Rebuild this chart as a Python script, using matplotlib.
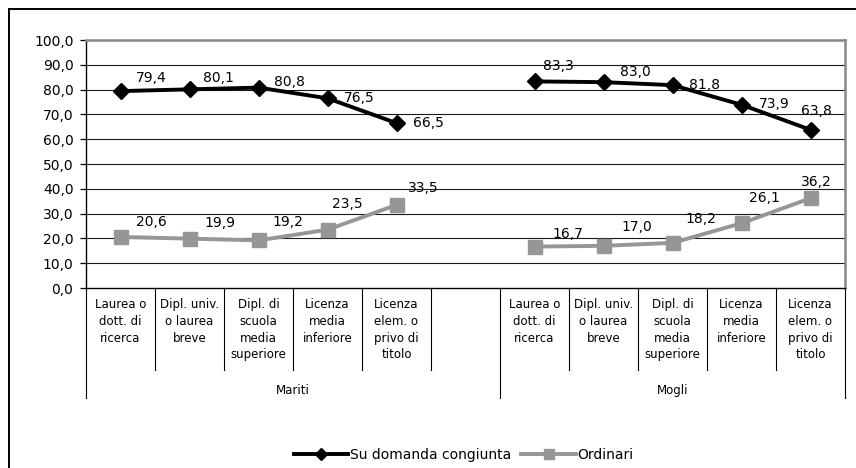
import numpy as np
import matplotlib
matplotlib.use("Agg")
import matplotlib.pyplot as plt
from matplotlib.lines import Line2D

plt.rcParams['font.family'] = ['DejaVu Sans']

# ---- data ----
categories = ["Laurea o\ndott. di\nricerca",
              "Dipl. univ.\no laurea\nbreve",
              "Dipl. di\nscuola\nmedia\nsuperiore",
              "Licenza\nmedia\ninferiore",
              "Licenza\nelem. o\nprivo di\ntitolo"]
groups = ["Mariti", "Mogli"]
mariti_congiunta = [79.4, 80.1, 80.8, 76.5, 66.5]
mariti_ordinari = [20.6, 19.9, 19.2, 23.5, 33.5]
mogli_congiunta = [83.3, 83.0, 81.8, 73.9, 63.8]
mogli_ordinari = [16.7, 17.0, 18.2, 26.1, 36.2]
series_names = ["Su domanda congiunta", "Ordinari"]
yticks = [0, 10, 20, 30, 40, 50, 60, 70, 80, 90, 100]
ytick_labels = ["0,0", "10,0", "20,0", "30,0", "40,0", "50,0",
                "60,0", "70,0", "80,0", "90,0", "100,0"]

# label placement offsets (pixels) - layout only
off_cong = [(31, 13), (29, 11), (31, 6), (32, 0), (32, 0),
            None,
            (24, 15), (32, 10), (32, 0), (33, 1), (6, 19)]
off_ord = [(31, 15), (30, 16), (29, 18), (20, 26), (27, 17),
           None,
           (33, 13), (33, 19), (28, 24), (23, 25), (6, 16)]

# ---- build slot layout: 5 categories, empty slot, 5 categories ----
n = len(categories)
cong = np.array(mariti_congiunta + [np.nan] + mogli_congiunta, dtype=float)
ordn = np.array(mariti_ordinari + [np.nan] + mogli_ordinari, dtype=float)
x = np.arange(len(cong))
slot_labels = categories + [""] + categories

W, H = 856, 468
fig = plt.figure(figsize=(W / 100, H / 100), dpi=100)
ax = fig.add_axes([86 / W, 1 - 288 / H, (845 - 86) / W, (288 - 40) / H])

GRAY = "#969696"
ax.plot(x, cong, color="black", lw=2.8, marker="D", markersize=8.5,
        markerfacecolor="black", markeredgecolor="black", zorder=4,
        label=series_names[0])
ax.plot(x, ordn, color=GRAY, lw=2.8, marker="s", markersize=10,
        markerfacecolor=GRAY, markeredgecolor=GRAY, zorder=3,
        label=series_names[1])

def fmt(v):
    return f"{v:.1f}".replace(".", ",")

for xi, v, o in zip(x, cong, off_cong):
    if o is None or np.isnan(v):
        continue
    ax.annotate(fmt(v), (xi, v), xytext=o, textcoords="offset pixels",
                ha="center", va="center", fontsize=10, zorder=6)
for xi, v, o in zip(x, ordn, off_ord):
    if o is None or np.isnan(v):
        continue
    ax.annotate(fmt(v), (xi, v), xytext=o, textcoords="offset pixels",
                ha="center", va="center", fontsize=10, zorder=6)

ax.set_xlim(-0.5, len(cong) - 0.5)
ax.set_ylim(0, 100)
ax.set_yticks(yticks)
ax.set_yticklabels(ytick_labels, fontsize=10)
ax.tick_params(axis="y", direction="out", length=4, width=0.9, pad=5, colors="black")
ax.set_xticks([])

for yv in yticks[1:-1]:
    ax.axhline(yv, color="#1a1a1a", lw=0.8, zorder=1)

for s in ["top", "right"]:
    ax.spines[s].set_color("#888888")
    ax.spines[s].set_linewidth(1.8)
ax.spines["left"].set_color("black")
ax.spines["left"].set_linewidth(1.0)
ax.spines["bottom"].set_color("black")
ax.spines["bottom"].set_linewidth(1.0)

# category axis table
tr = ax.get_xaxis_transform()
ah = 288 - 40
tick_end = -(370 - 288) / ah
group_end = -(398 - 288) / ah
for k in range(len(cong) + 1):
    b = k - 0.5
    is_group = k in (0, n + 1, len(cong))
    ax.plot([b, b], [0, group_end if is_group else tick_end], transform=tr,
            color="black", lw=0.8, clip_on=False)
for xi, lab in zip(x, slot_labels):
    ax.text(xi, -(298 - 288) / ah, lab, transform=tr, ha="center", va="top",
            fontsize=8.5, linespacing=1.38)
group_centers = [np.mean(x[:n + 1]), np.mean(x[n + 1:])]
for gc, g in zip(group_centers, groups):
    ax.text(gc, -(390 - 288) / ah, g, transform=tr, ha="center", va="center",
            fontsize=8.5)

# legend
fig.legend(loc="center", bbox_to_anchor=(464 / W, 1 - 455 / H), ncol=2,
           frameon=False, fontsize=10, handlelength=3.9, handletextpad=0.15,
           columnspacing=0.7, borderaxespad=0, borderpad=0, markerscale=0.75)

# outer chart frame (left and top visible)
fig.add_artist(Line2D([8.5 / W, 8.5 / W], [0, 1 - 8.5 / H], color="black",
                      lw=1.4, transform=fig.transFigure))
fig.add_artist(Line2D([8.5 / W, 1], [1 - 8.5 / H, 1 - 8.5 / H], color="black",
                      lw=1.4, transform=fig.transFigure))

fig.savefig("out.png", dpi=100)
